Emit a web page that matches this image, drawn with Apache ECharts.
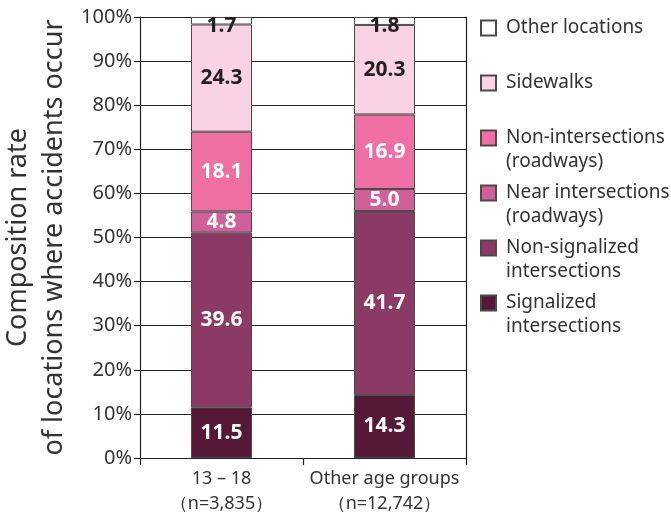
<!DOCTYPE html>
<html>
<head>
<meta charset="utf-8">
<script src="https://cdn.jsdelivr.net/npm/echarts@6/dist/echarts.min.js"></script>
<style>
  html, body { margin: 0; padding: 0; background: #fff; }
  #chart { width: 671px; height: 514px; }
</style>
</head>
<body>
<div id="chart"></div>
<script>
// Age groups along the x axis
const groups = ['13 – 18\n（n=3,835）', 'Other age groups\n（n=12,742）'];

// Location types, bottom of the stack first
const locations = [
  'Signalized\nintersections',
  'Non-signalized\nintersections',
  'Near intersections\n(roadways)',
  'Non-intersections\n(roadways)',
  'Sidewalks',
  'Other locations'
];

// Composition rate (%) per location, [13 – 18, other age groups]
const signalized    = [11.5, 14.3];
const nonSignalized = [39.6, 41.7];
const nearInter     = [4.8, 5.0];
const nonInter      = [18.1, 16.9];
const sidewalks     = [24.3, 20.3];
const otherLoc      = [1.7, 1.8];

const yTicks = [0, 10, 20, 30, 40, 50, 60, 70, 80, 90, 100];

const seriesValues = [signalized, nonSignalized, nearInter, nonInter, sidewalks, otherLoc];
const fills = ['#561837', '#8a3a64', '#d0609a', '#ef6fa5', '#f9d3e4', '#ffffff'];
const labelInk = ['#fff', '#fff', '#fff', '#fff', '#231f20', '#231f20'];

const font = '"Noto Sans", "Open Sans", sans-serif';

const chart = echarts.init(document.getElementById('chart'), null, { renderer: 'canvas' });

const series = seriesValues.map((vals, i) => ({
  name: locations[i],
  type: 'bar',
  stack: 'total',
  barWidth: 61,
  data: vals,
  itemStyle: { color: fills[i], borderColor: '#4a4a4a', borderWidth: 1 },
  label: {
    show: true,
    position: 'inside',
    // the thin top slice carries its number a little lower
    offset: i === seriesValues.length - 1 ? [0, 5] : [0, 0],
    color: labelInk[i],
    fontFamily: font,
    fontWeight: 'bold',
    fontSize: 21,
    formatter: p => p.value.toFixed(1)
  },
  emphasis: { disabled: true }
}));

chart.setOption({
  animation: false,
  backgroundColor: '#fff',
  grid: { left: 140, right: 205, top: 17, bottom: 56, outerBoundsMode: 'none', containLabel: false },
  legend: {
    orient: 'vertical',
    left: 480,
    top: 15,
    padding: 0,
    itemGap: 5,
    itemWidth: 20,
    itemHeight: 48,
    // square sits beside the first text line
    icon: 'path://M0,0 M20,48 M0,4.5h15v15h-15z',
    selectedMode: false,
    data: locations.slice().reverse(),
    formatter: name => name.indexOf('\n') >= 0 ? name : name + '\n ',
    textStyle: { fontFamily: font, fontSize: 19, lineHeight: 24, color: '#333' }
  },
  xAxis: {
    type: 'category',
    data: groups,
    axisLine: { lineStyle: { color: '#231f20', width: 1.2 } },
    axisTick: { show: true, length: 7, lineStyle: { color: '#231f20', width: 1.2 } },
    axisLabel: {
      interval: 0,
      fontFamily: font, fontSize: 18, lineHeight: 25, color: '#333', margin: 8
    }
  },
  yAxis: [{
    type: 'value',
    min: 0, max: 100, interval: 10,
    name: 'Composition rate\nof locations where accidents occur',
    nameLocation: 'middle',
    nameRotate: 90,
    nameGap: 68,
    nameTextStyle: { fontFamily: font, fontSize: 27, lineHeight: 36, color: '#333' },
    axisLine: { show: true, lineStyle: { color: '#231f20', width: 1.2 } },
    axisTick: { show: true, length: 6, lineStyle: { color: '#231f20', width: 1.2 } },
    axisLabel: {
      fontFamily: font, fontSize: 20, color: '#333', margin: 8,
      formatter: v => (yTicks.indexOf(v) >= 0 ? v + '%' : '')
    },
    splitLine: { show: true, lineStyle: { color: '#231f20', width: 1.2 } }
  }, {
    type: 'value',
    position: 'right',
    min: 0, max: 100, interval: 10,
    axisLine: { show: true, lineStyle: { color: '#231f20', width: 1.2 } },
    axisTick: { show: false },
    axisLabel: { show: false },
    splitLine: { show: false }
  }],
  series: series
});
</script>
</body>
</html>
